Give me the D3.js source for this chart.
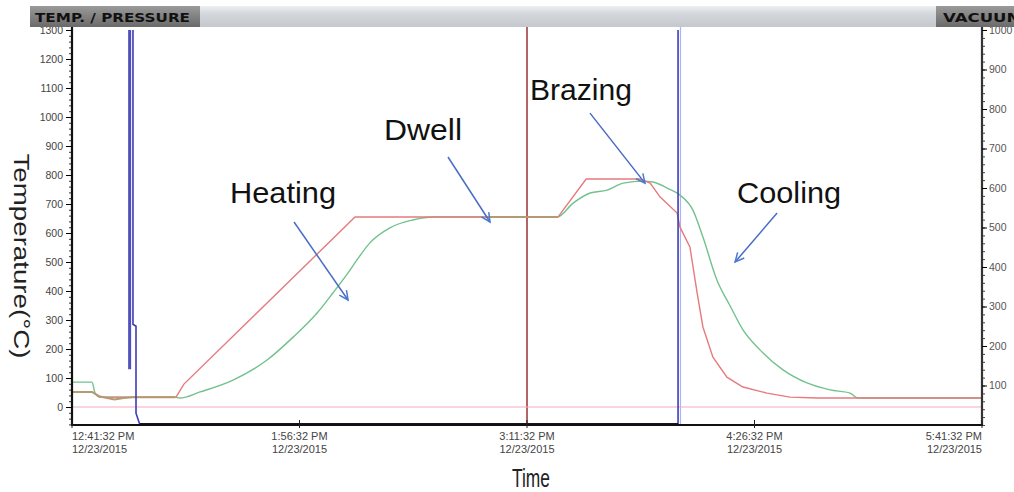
<!DOCTYPE html>
<html>
<head>
<meta charset="utf-8">
<script src="https://cdn.jsdelivr.net/npm/d3@7"></script>
<style>
body { margin: 0; background: #fff; }
svg { display: block; font-family: "Liberation Sans", Arial, sans-serif; }
</style>
</head>
<body>
<div id="chart"></div>
<script>
var startTime = "12/23/2015 12:41:32 PM";
var endTime = "12/23/2015 5:41:32 PM";
var tickTimes = ["12/23/2015 12:41:32 PM", "12/23/2015 1:56:32 PM", "12/23/2015 3:11:32 PM",
                 "12/23/2015 4:26:32 PM", "12/23/2015 5:41:32 PM"];
var tempTicks = [0, 100, 200, 300, 400, 500, 600, 700, 800, 900, 1000, 1100, 1200, 1300];
var vacTicks = [100, 200, 300, 400, 500, 600, 700, 800, 900, 1000];

// [minutes since start, deg C]
var setpointTemp = [[0, 52], [6.6, 52], [9.2, 34], [34.3, 34], [36.9, 79], [93.3, 655], [160.2, 655],
    [169.5, 786], [187.3, 786], [190.6, 772], [193.9, 724], [199.5, 669], [200.4, 621], [203.7, 552],
    [206.1, 393], [208, 276], [211.3, 172], [215.9, 103], [221.2, 69], [229.1, 48], [236.7, 34],
    [245.6, 31], [300, 31]];

var workTemp = [[0, 86], [6.6, 86], [7.6, 48], [9.2, 34], [34, 34], [35.6, 31], [42.2, 52], [53.1, 93],
    [64.3, 162], [72.9, 241], [80.8, 324], [86, 393], [90.7, 458], [94, 508], [98.2, 566], [104.8, 618],
    [112.4, 645], [119, 655], [160, 655], [165.2, 703], [170.8, 738], [176.4, 748], [181.7, 772],
    [188.3, 779], [191.5, 776], [196.2, 755], [200.4, 731], [204.7, 679], [208, 586], [212.6, 438],
    [216.9, 350], [221.2, 266], [226.8, 197], [234.4, 128], [242.3, 83], [249.9, 59], [256.5, 48],
    [259.1, 31], [300, 31]];

var tc2Temp = [[0, 52], [6.6, 52], [9.2, 36], [12, 30], [14, 26], [17, 31], [20, 34], [34, 34], null,
    [137, 655], [160, 655]];

var tc3Temp = [[0, 0], [300, 0]];

// [minutes since start, vacuum]
var vacuum = [[20.1, 1000], [20.1, 255], [21.1, 250], [21.1, 30], [22.4, 0], [199.8, 0], [199.8, 1000]];
var vacuum2 = [[19.0, 1000], [19.0, 141]];

var cursorTimes = [150, 200.6];
var cursorColors = ["#9b2f35", "#a9b5ee"];

var annotations = [
    {label: "Heating", t: 91.0, temp: 369},
    {label: "Dwell", t: 137.8, temp: 638},
    {label: "Brazing", t: 188.9, temp: 772},
    {label: "Cooling", t: 218.6, temp: 500}
];
// arrow start offset, text offset (px, from arrow tip), text width
var annoLayout = {
    "Heating": {ax: -54, ay: -78, tx: -118, ty: -97, w: 106},
    "Dwell":   {ax: -42, ay: -65, tx: -106, ty: -82, w: 78},
    "Brazing": {ax: -55, ay: -70, tx: -115, ty: -83, w: 102},
    "Cooling": {ax: 42, ay: -49, tx: 2, ty: -59, w: 104}
};

var parseTime = d3.timeParse("%m/%d/%Y %I:%M:%S %p");
var t0 = parseTime(startTime);
function toDate(m) { return new Date(t0.getTime() + m * 60000); }

var width = 1014, height = 492;
var plotLeft = 72, plotRight = 982, plotTop = 27, plotBottom = 425;

var svg = d3.select("#chart")
    .append("svg")
    .attr("width", width)
    .attr("height", height);

var x = d3.scaleTime()
    .domain([t0, parseTime(endTime)])
    .range([plotLeft, plotRight]);

var yTemp = d3.scaleLinear()
    .domain([-62, 1300])
    .range([plotBottom, 30]);

var yVac = d3.scaleLinear()
    .domain([0, 1000])
    .range([plotBottom, 30]);

var defs = svg.append("defs");
defs.append("clipPath")
    .attr("id", "plot")
    .append("rect")
    .attr("x", plotLeft).attr("y", plotTop)
    .attr("width", plotRight - plotLeft).attr("height", plotBottom - plotTop);

var plot = svg.append("g").attr("clip-path", "url(#plot)");

var tempLine = d3.line()
    .defined(function(d) { return d != null; })
    .x(function(d) { return x(toDate(d[0])); })
    .y(function(d) { return yTemp(d[1]); });

var smoothLine = d3.line()
    .curve(d3.curveMonotoneX)
    .x(function(d) { return x(toDate(d[0])); })
    .y(function(d) { return yTemp(d[1]); });

var vacLine = d3.line()
    .x(function(d) { return x(toDate(d[0])); })
    .y(function(d) { return yVac(d[1]); });

// cursors
plot.selectAll(".cursor")
    .data(cursorTimes)
    .join("line")
    .attr("class", "cursor")
    .attr("x1", function(d) { return x(toDate(d)); })
    .attr("x2", function(d) { return x(toDate(d)); })
    .attr("y1", plotTop)
    .attr("y2", plotBottom)
    .attr("stroke", function(d, i) { return cursorColors[i]; })
    .attr("stroke-width", function(d, i) { return i == 0 ? 1.5 : 1.2; });

plot.append("path")
    .datum(tc3Temp)
    .attr("d", tempLine)
    .attr("fill", "none")
    .attr("stroke", "#f3abbd")
    .attr("stroke-width", 1.2);

plot.append("path")
    .datum(workTemp)
    .attr("d", smoothLine)
    .attr("fill", "none")
    .attr("stroke", "#72c28e")
    .attr("stroke-width", 1.4);

plot.append("path")
    .datum(setpointTemp)
    .attr("d", tempLine)
    .attr("fill", "none")
    .attr("stroke", "#e57b7d")
    .attr("stroke-width", 1.4);

plot.append("path")
    .datum(tc2Temp)
    .attr("d", tempLine)
    .attr("fill", "none")
    .attr("stroke", "#b49a72")
    .attr("stroke-width", 2);

plot.append("path")
    .datum(vacuum2)
    .attr("d", vacLine)
    .attr("fill", "none")
    .attr("stroke", "#4f4fbf")
    .attr("stroke-width", 3);

plot.append("path")
    .datum(vacuum)
    .attr("d", vacLine)
    .attr("fill", "none")
    .attr("stroke", "#3e3eb4")
    .attr("stroke-width", 1.6);

// thick dark trace where vacuum sits at zero
plot.append("path")
    .datum(vacuum.slice(4, 6))
    .attr("d", vacLine)
    .attr("fill", "none")
    .attr("stroke", "#14142a")
    .attr("stroke-width", 4);

// axes
var leftMinor = svg.append("g")
    .attr("transform", "translate(" + plotLeft + ",0)")
    .call(d3.axisLeft(yTemp).tickValues(d3.range(-60, 1301, 20)).tickSize(3).tickSizeOuter(0).tickFormat(""));
leftMinor.select(".domain").remove();
leftMinor.selectAll("line").attr("stroke", "#333");

var leftAxis = svg.append("g")
    .attr("transform", "translate(" + plotLeft + ",0)")
    .call(d3.axisLeft(yTemp).tickValues(tempTicks).tickFormat(d3.format("d"))
        .tickSize(6).tickPadding(3).tickSizeOuter(0));
leftAxis.select(".domain").attr("stroke", "#111").attr("stroke-width", 2.2)
    .attr("d", "M0," + plotTop + "V" + plotBottom);
leftAxis.selectAll("text").attr("font-size", 10.5).attr("fill", "#444")
    .attr("font-family", "Liberation Sans, Arial, sans-serif");

var rightMinor = svg.append("g")
    .attr("transform", "translate(" + plotRight + ",0)")
    .call(d3.axisRight(yVac).tickValues(d3.range(0, 1001, 20)).tickSize(3).tickSizeOuter(0).tickFormat(""));
rightMinor.select(".domain").remove();
rightMinor.selectAll("line").attr("stroke", "#444");

var rightAxis = svg.append("g")
    .attr("transform", "translate(" + plotRight + ",0)")
    .call(d3.axisRight(yVac).tickValues(vacTicks).tickFormat(d3.format("d"))
        .tickSize(5).tickPadding(2).tickSizeOuter(0));
rightAxis.select(".domain").attr("stroke", "#333").attr("stroke-width", 2.2)
    .attr("d", "M0," + plotTop + "V" + plotBottom);
rightAxis.selectAll("text").attr("font-size", 10.5).attr("fill", "#555")
    .attr("font-family", "Liberation Sans, Arial, sans-serif");

svg.append("line")
    .attr("x1", plotLeft - 1).attr("x2", plotRight + 1)
    .attr("y1", plotBottom).attr("y2", plotBottom)
    .attr("stroke", "#111")
    .attr("stroke-width", 2.2);

var tickDates = tickTimes.map(parseTime);

svg.append("g")
    .selectAll("line")
    .data(tickDates)
    .join("line")
    .attr("x1", function(d) { return x(d); })
    .attr("x2", function(d) { return x(d); })
    .attr("y1", plotBottom - 5)
    .attr("y2", plotBottom + 3)
    .attr("stroke", "#222");

var fmtTime = d3.timeFormat("%-I:%M:%S %p");
var fmtDate = d3.timeFormat("%-m/%-d/%Y");

var xLabels = svg.append("g")
    .selectAll("text")
    .data(tickDates)
    .join("text")
    .attr("font-size", 11)
    .attr("fill", "#444")
    .attr("text-anchor", function(d, i) { return i == 0 ? "start" : (i == tickDates.length - 1 ? "end" : "middle"); });

xLabels.append("tspan")
    .attr("x", function(d) { return x(d); })
    .attr("y", 440)
    .text(function(d) { return fmtTime(d); });

xLabels.append("tspan")
    .attr("x", function(d) { return x(d); })
    .attr("y", 453)
    .text(function(d) { return fmtDate(d); });

// axis titles
svg.append("text")
    .attr("transform", "translate(14,256) rotate(90)")
    .attr("text-anchor", "middle")
    .attr("font-size", 22)
    .attr("fill", "#222")
    .attr("textLength", 205)
    .attr("lengthAdjust", "spacingAndGlyphs")
    .text("Temperature(°C)");

svg.append("text")
    .attr("x", 531)
    .attr("y", 487)
    .attr("text-anchor", "middle")
    .attr("font-size", 25)
    .attr("fill", "#222")
    .attr("textLength", 38)
    .attr("lengthAdjust", "spacingAndGlyphs")
    .text("Time");

// header band
var grad = defs.append("linearGradient")
    .attr("id", "band").attr("x1", 0).attr("x2", 0).attr("y1", 0).attr("y2", 1);
grad.append("stop").attr("offset", "0%").attr("stop-color", "#eef0f2");
grad.append("stop").attr("offset", "35%").attr("stop-color", "#d4d8dc");
grad.append("stop").attr("offset", "100%").attr("stop-color", "#c4c8cc");

var gradDark = defs.append("linearGradient")
    .attr("id", "bandDark").attr("x1", 0).attr("x2", 0).attr("y1", 0).attr("y2", 1);
gradDark.append("stop").attr("offset", "0%").attr("stop-color", "#9a9a9a");
gradDark.append("stop").attr("offset", "100%").attr("stop-color", "#6a6a6a");

svg.append("rect")
    .attr("x", 30).attr("y", 6).attr("width", width - 30).attr("height", 21)
    .attr("fill", "url(#band)");

svg.append("rect")
    .attr("x", 30).attr("y", 6).attr("width", 170).attr("height", 21)
    .attr("fill", "url(#bandDark)");

svg.append("rect")
    .attr("x", 936).attr("y", 6).attr("width", 78).attr("height", 21)
    .attr("fill", "url(#bandDark)");

svg.append("text")
    .attr("x", 35).attr("y", 22)
    .attr("font-family", "DejaVu Sans, Verdana, sans-serif")
    .attr("font-weight", "bold")
    .attr("font-size", 12)
    .attr("fill", "#111")
    .attr("textLength", 155)
    .attr("lengthAdjust", "spacingAndGlyphs")
    .text("TEMP. / PRESSURE");

svg.append("text")
    .attr("x", 943).attr("y", 22)
    .attr("font-family", "DejaVu Sans, Verdana, sans-serif")
    .attr("font-weight", "bold")
    .attr("font-size", 12)
    .attr("fill", "#111")
    .attr("textLength", 80)
    .attr("lengthAdjust", "spacingAndGlyphs")
    .text("VACUUM");

// annotations
var anno = svg.append("g")
    .selectAll("g")
    .data(annotations)
    .join("g")
    .attr("transform", function(d) { return "translate(" + x(toDate(d.t)) + "," + yTemp(d.temp) + ")"; });

anno.append("line")
    .attr("x1", function(d) { return annoLayout[d.label].ax; })
    .attr("y1", function(d) { return annoLayout[d.label].ay; })
    .attr("x2", 0).attr("y2", 0)
    .attr("stroke", "#4a6cc4")
    .attr("stroke-width", 1.5);

anno.append("path")
    .attr("d", function(d) {
        var l = annoLayout[d.label];
        var a = Math.atan2(-l.ay, -l.ax);
        var s = 10, w = 0.45;
        return "M" + (-s * Math.cos(a - w)) + "," + (-s * Math.sin(a - w)) + "L0,0L" +
            (-s * Math.cos(a + w)) + "," + (-s * Math.sin(a + w));
    })
    .attr("fill", "none")
    .attr("stroke", "#4a7ad0")
    .attr("stroke-width", 1.5);

anno.append("text")
    .attr("x", function(d) { return annoLayout[d.label].tx; })
    .attr("y", function(d) { return annoLayout[d.label].ty; })
    .attr("font-size", 29)
    .attr("fill", "#111")
    .attr("textLength", function(d) { return annoLayout[d.label].w; })
    .attr("lengthAdjust", "spacingAndGlyphs")
    .text(function(d) { return d.label; });
</script>
</body>
</html>
